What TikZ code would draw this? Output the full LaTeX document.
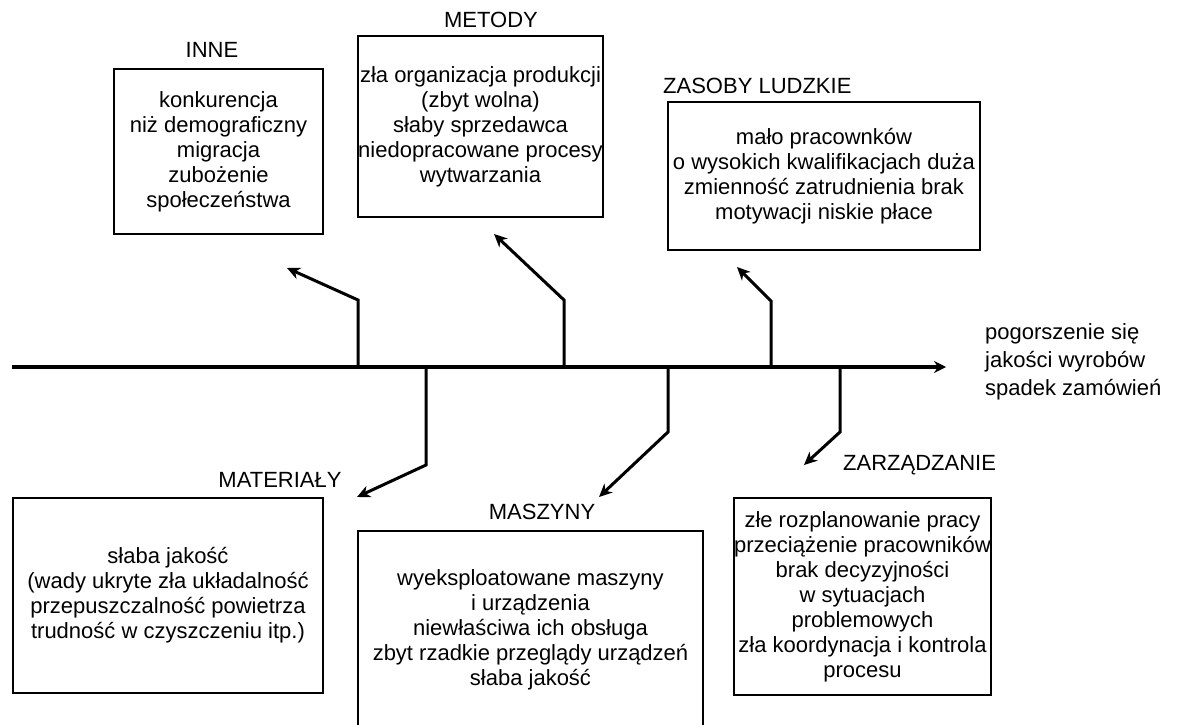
\documentclass[tikz,border=0pt]{standalone}
\usepackage{fontspec}
\setmainfont{Liberation Sans}
\usetikzlibrary{arrows.meta}

\begin{document}
\begin{tikzpicture}[x=1pt, y=-1pt,
        every node/.style={font=\fontsize{22}{25}\selectfont, align=center, inner sep=2pt},
        causebox/.style={draw, line width=1.3pt, inner sep=0pt},
        bone/.style={line width=3pt, -{Stealth[length=13pt, width=12pt, inset=4pt]}}]
    \useasboundingbox (0,0) rectangle (1178,725);

    % spine and effect
    \coordinate (tail) at (12,367);
    \coordinate (head) at (946,367);
    \draw[line width=3.3pt, -{Stealth[length=12pt, width=12pt, inset=4pt]}] (tail) -- (head);
    \node[anchor=west, align=left, font=\fontsize{22}{28}\selectfont] (effect) at (983,362)
        {pogorszenie się\\jakości wyrobów\\spadek zamówień};

    % upper causes
    \node[causebox, minimum width=209, minimum height=165] (inne) at (218.5,151.5)
        {konkurencja\\niż demograficzny\\migracja\\zubożenie\\społeczeństwa};
    \node (inneLabel) at (212,50) {INNE};
    \node[causebox, minimum width=245, minimum height=181] (metody) at (480.5,126.5)
        {zła organizacja produkcji\\(zbyt wolna)\\słaby sprzedawca\\niedopracowane procesy\\wytwarzania};
    \node (metodyLabel) at (491,20) {METODY};
    \node[causebox, minimum width=312, minimum height=148] (zasoby) at (824,176)
        {mało pracownków\\o wysokich kwalifikacjach duża\\zmienność zatrudnienia brak\\motywacji niskie płace};
    \node[anchor=west] (zasobyLabel) at (661,86) {ZASOBY LUDZKIE};

    % lower causes
    \node[causebox, minimum width=310, minimum height=195] (materialy) at (168,595.5)
        {słaba jakość\\(wady ukryte zła układalność\\przepuszczalność powietrza\\trudność w czyszczeniu itp.)};
    \node (materialyLabel) at (280,480) {MATERIAŁY};
    \node[causebox, minimum width=345, minimum height=198] (maszyny) at (530.5,630)
        {wyeksploatowane maszyny\\i urządzenia\\niewłaściwa ich obsługa\\zbyt rzadkie przeglądy urządzeń\\słaba jakość};
    \node (maszynyLabel) at (542,512) {MASZYNY};
    \node[causebox, minimum width=251, minimum height=197] (zarzadzanie) at (862.5,596.5)
        {złe rozplanowanie pracy\\przeciążenie pracowników\\brak decyzyjności\\w sytuacjach\\problemowych\\zła koordynacja i kontrola\\procesu};
    \node[anchor=west] (zarzadzanieLabel) at (841,465) {ZARZĄDZANIE};

    % bones
    \coordinate (inneRoot) at (358,367);
    \coordinate (inneBend) at (358,300);
    \coordinate (inneTip) at (287,268);
    \coordinate (metodyRoot) at (564,367);
    \coordinate (metodyBend) at (564,300);
    \coordinate (metodyTip) at (494,234);
    \coordinate (zasobyRoot) at (771,367);
    \coordinate (zasobyBend) at (771,301);
    \coordinate (zasobyTip) at (737,267);
    \coordinate (materialyRoot) at (426,367);
    \coordinate (materialyBend) at (426,465);
    \coordinate (materialyTip) at (357,497);
    \coordinate (maszynyRoot) at (668,367);
    \coordinate (maszynyBend) at (668,432);
    \coordinate (maszynyTip) at (599,497);
    \coordinate (zarzadzanieRoot) at (840,367);
    \coordinate (zarzadzanieBend) at (840,432);
    \coordinate (zarzadzanieTip) at (804,465);
    \foreach \c in {inne,metody,zasoby,materialy,maszyny,zarzadzanie}
        \draw[bone] (\c Root) -- (\c Bend) -- (\c Tip);
\end{tikzpicture}
\end{document}
